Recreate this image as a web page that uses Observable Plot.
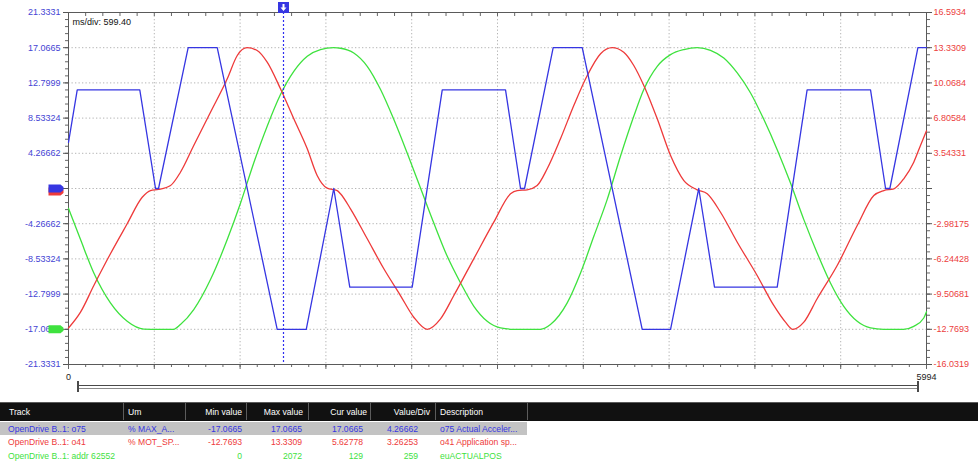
<!DOCTYPE html>
<html>
<head>
<meta charset="utf-8">
<script src="https://cdn.jsdelivr.net/npm/d3@7"></script>
<script src="https://cdn.jsdelivr.net/npm/@observablehq/plot@0.6"></script>
<style>
  body { margin: 0; background: #fff; font-family: "Liberation Sans", Arial, sans-serif; }
  #wrap { position: relative; width: 978px; height: 462px; overflow: hidden; background: #fff; }
  #chart { position: absolute; left: 0; top: 0; }
  .scroll-line { position: absolute; left: 77px; width: 841px; top: 385px; height: 1px; background: #4a4a4a; }
  .scroll-line2 { position: absolute; left: 77px; width: 841px; top: 388px; height: 1px; background: #8a8a8a; }
  .scroll-cap { position: absolute; top: 381px; width: 2px; height: 11px; background: #4a4a4a; }
  #head { position: absolute; left: 0; top: 402px; width: 978px; height: 18px; background: #111; border-top: 1px solid #5a5a5a; }
  .sep { position: absolute; top: 403px; width: 1px; height: 17px; background: #5c5c5c; }
  .cell { position: absolute; font-size: 8.6px; line-height: 10px; white-space: nowrap; }
  .hl { position: absolute; left: 0; top: 422px; width: 527px; height: 13px; background: #c3c3c3; }
</style>
</head>
<body>
<div id="wrap">
  <div id="chart"></div>
</div>
<script>
// Trace colours
const blue = "#3636e2", red = "#ee3a3a", green = "#3ee23e";

// Axis tick labels (left: o75 scale, right: o41 scale)
const leftTickLabels = ["21.3331", "17.0665", "12.7999", "8.53324", "4.26662", "0",
  "-4.26662", "-8.53324", "-12.7999", "-17.0665", "-21.3331"];
const rightTickLabels = ["16.5934", "13.3309", "10.0684", "6.80584", "3.54331", "",
  "-2.98175", "-6.24428", "-9.50681", "-12.7693", "-16.0319"];
const xTickLabels = ["0", "5994"];
const timeSpan = [0, 5994];
const msPerDiv = 599.40;
const cursorTime = 1502;

// o75 Actual acceleration (% MAX_A)
const blueTime = [0, 61, 498, 608, 629, 836, 1039, 1458, 1661, 1853, 1965, 2401, 2611, 3053, 3158,
  3186, 3386, 3589, 4008, 4206, 4403, 4513, 4951, 5160, 5603, 5708, 5738, 5934, 5994];
const blueValue = [5.6, 11.95, 11.95, 0, 0, 17.0665, 17.0665, -17.0665, -17.0665, 0, -11.95, -11.95, 11.95, 11.95, 0,
  0, 17.0665, 17.0665, -17.0665, -17.0665, 0, -11.95, -11.95, 11.95, 11.95, 0, 0, 17.0665, 17.0665];

// o41 Application speed (% MOT_SP)
const redTime = [0, 84, 177, 293, 410, 515, 573, 629, 713, 782, 875, 992, 1109, 1179, 1248, 1318, 1388,
  1481, 1574, 1668, 1737, 1807, 1877, 1900, 1970, 2087, 2203, 2319, 2412, 2506, 2599, 2692, 2831, 2971,
  3088, 3135, 3204, 3274, 3344, 3437, 3530, 3624, 3717, 3798, 3879, 3949, 4019, 4113, 4206, 4299, 4392,
  4462, 4555, 4672, 4811, 4927, 5009, 5060, 5137, 5230, 5370, 5510, 5626, 5696, 5766, 5835, 5905, 5952, 5994];
const redValue = [-12.65, -11.18, -8.71, -5.77, -2.99, -0.53, 0.09, 0.19, 0.56, 1.79, 4.27, 7.35, 10.45, 12.61,
  13.3309, 13.07, 11.99, 9.52, 6.74, 3.96, 1.49, 0.31, 0.09, -0.21, -1.60, -4.38, -7.16, -9.64, -11.65,
  -12.7693, -11.80, -9.64, -6.24, -2.84, -0.21, 0.09, 0.16, 0.56, 2.11, 4.89, 7.97, 10.75, 12.77, 13.3309,
  12.91, 11.68, 9.83, 6.74, 3.34, 1.02, 0.16, -0.21, -1.92, -4.70, -7.78, -10.56, -12.11, -12.7693, -12.11,
  -9.94, -6.86, -3.15, -0.37, 0.09, 0.25, 1.18, 2.72, 4.27, 5.62778];

// addr 62552 euACTUALPOS
const greenTime = [0, 84, 177, 293, 410, 526, 629, 734, 782, 875, 992, 1109, 1202, 1294, 1388, 1481, 1574,
  1668, 1760, 1853, 1900, 1993, 2087, 2180, 2273, 2366, 2459, 2552, 2646, 2739, 2832, 2925, 3018, 3109,
  3297, 3367, 3484, 3577, 3670, 3763, 3856, 3949, 4019, 4113, 4206, 4299, 4392, 4485, 4578, 4672, 4765,
  4858, 4951, 5044, 5137, 5230, 5323, 5416, 5510, 5603, 5694, 5833, 5905, 5975, 5994];
const greenValue = [890, 660, 414, 194, 59, 2, 0, 0, 35, 145, 366, 660, 929, 1224, 1494, 1727, 1898, 2009,
  2058, 2072, 2068, 2033, 1935, 1764, 1543, 1297, 1040, 782, 537, 341, 169, 59, 10, 0, 0, 35, 194, 414,
  684, 954, 1273, 1567, 1764, 1935, 2021, 2058, 2072, 2053, 1996, 1886, 1739, 1543, 1322, 1076, 807, 562,
  341, 169, 59, 10, 0, 0, 22, 83, 129];

// Track table
const tableHeaders = ["Track", "Um", "Min value", "Max value", "Cur value", "Value/Div", "Description"];
const trackNames = ["OpenDrive B..1: o75", "OpenDrive B..1: o41", "OpenDrive B..1: addr 62552"];
const trackUnits = ["% MAX_A...", "% MOT_SP...", ""];
const trackMin = ["-17.0665", "-12.7693", "0"];
const trackMax = ["17.0665", "13.3309", "2072"];
const trackCur = ["17.0665", "5.62778", "129"];
const trackDiv = ["4.26662", "3.26253", "259"];
const trackDesc = ["o75 Actual Acceler...", "o41 Application sp...", "euACTUALPOS"];
const trackColors = [blue, red, green];

// Every trace shares the o75 vertical grid: convert the other units through value/div
const blueDiv = +trackDiv[0], redDiv = +trackDiv[1], greenDiv = +trackDiv[2];
const redOnCentre = 0.280775;              // o41 value on the centre gridline
const greenBase = +leftTickLabels[9];      // position 0 sits on the -17.0665 gridline
const redToY = v => (v - redOnCentre) / redDiv * blueDiv;
const greenToY = v => greenBase + v / greenDiv * blueDiv;

const leftTicks = leftTickLabels.map(Number);
const yMax = leftTicks[0];
const rightByTick = new Map(leftTicks.map((v, i) => [v, rightTickLabels[i]]));
const leftByTick = new Map(leftTicks.map((v, i) => [v, leftTickLabels[i]]));

const blueData = blueTime.map((t, i) => ({t, v: blueValue[i]}));
const redData = redTime.map((t, i) => ({t, v: redToY(redValue[i])}));
const greenData = greenTime.map((t, i) => ({t, v: greenToY(greenValue[i])}));

const xMajor = d3.range(0, 11).map(i => i * msPerDiv);
const xMinor = d3.range(0, 51).map(i => i * msPerDiv / 5);
const yMinor = d3.range(0, 51).map(i => -yMax + i * blueDiv / 5);

// Marker shapes: tab pointing right (track zero), square flag, and down arrow (cursor)
const tabSymbol = {draw(ctx) {
  ctx.moveTo(-8, -4); ctx.lineTo(4, -4); ctx.lineTo(7, -1.5); ctx.lineTo(7, 1.5);
  ctx.lineTo(4, 4); ctx.lineTo(-8, 4); ctx.closePath();
}};
const flagSymbol = {draw(ctx) {
  ctx.moveTo(-5.5, -5.5); ctx.lineTo(5.5, -5.5); ctx.lineTo(5.5, 5.5); ctx.lineTo(-5.5, 5.5); ctx.closePath();
}};
const arrowSymbol = {draw(ctx) {
  ctx.moveTo(-1, -3.5); ctx.lineTo(1, -3.5); ctx.lineTo(1, 0); ctx.lineTo(3, 0);
  ctx.lineTo(0, 3.5); ctx.lineTo(-3, 0); ctx.lineTo(-1, 0); ctx.closePath();
}};

const axisFont = {fontSize: 9, fontFamily: "Liberation Sans"};

const chart = Plot.plot({
  width: 978,
  height: 384,
  marginLeft: 68,
  marginRight: 52,
  marginTop: 12,
  marginBottom: 20,
  style: {background: "transparent", fontFamily: "Liberation Sans", overflow: "visible"},
  x: {domain: timeSpan},
  y: {domain: [-yMax, yMax]},
  marks: [
    Plot.gridY(leftTicks.slice(1, -1), {stroke: "#b4b4b4", strokeOpacity: 1, strokeDasharray: "1.3,2.2"}),
    Plot.gridX(xMajor.slice(1, -1), {stroke: "#b4b4b4", strokeOpacity: 1, strokeDasharray: "1.3,2.2"}),
    // minor ticks on all four sides
    Plot.axisX(xMinor, {anchor: "bottom", tickSize: 3, stroke: "#666", tickFormat: () => "", label: null}),
    Plot.axisX(xMinor, {anchor: "top", tickSize: 3, dy: 3, stroke: "#666", tickFormat: () => "", label: null}),
    Plot.axisY(yMinor, {anchor: "left", tickSize: 3, stroke: "#666", tickFormat: () => "", label: null}),
    Plot.axisY(yMinor, {anchor: "right", tickSize: 3, stroke: "#666", tickFormat: () => "", label: null}),
    Plot.axisX(xMajor, {anchor: "bottom", tickSize: 5, stroke: "#666", tickFormat: () => "", label: null}),
    Plot.axisY(leftTicks, {anchor: "left", tickSize: 5, tickPadding: 3, stroke: "#555", color: "#4444d4",
      tickFormat: d => leftByTick.get(d), label: null, ...axisFont}),
    Plot.axisY(leftTicks, {anchor: "right", tickSize: 5, tickPadding: 2, stroke: "#555", color: "#ec4040",
      tickFormat: d => rightByTick.get(d), label: null, ...axisFont}),
    Plot.frame({stroke: "#5a5a5a"}),
    Plot.text([xTickLabels[0], xTickLabels[1]], {x: (d, i) => timeSpan[i], frameAnchor: "bottom", dy: 13,
      lineAnchor: "middle", fill: "#222", ...axisFont}),
    Plot.text(["ms/div: " + msPerDiv.toFixed(2)], {frameAnchor: "top-left", dx: 4, dy: 10,
      lineAnchor: "middle", textAnchor: "start", fill: "#111", ...axisFont}),
    // traces
    Plot.line(greenData, {x: "t", y: "v", stroke: green, strokeWidth: 1.3, curve: "monotone-x"}),
    Plot.line(redData, {x: "t", y: "v", stroke: red, strokeWidth: 1.3, curve: "monotone-x"}),
    Plot.line(blueData, {x: "t", y: "v", stroke: blue, strokeWidth: 1.3}),
    // cursor
    Plot.ruleX([cursorTime], {stroke: "#2e2ef0", strokeWidth: 1.2, strokeDasharray: "2,2"}),
    Plot.dot([cursorTime], {x: d => d, frameAnchor: "top", dy: -5, symbol: flagSymbol, r: 1, fill: blue, stroke: null}),
    Plot.dot([cursorTime], {x: d => d, frameAnchor: "top", dy: -5, symbol: arrowSymbol, r: 1, fill: "#fff", stroke: null}),
    // track zero markers on the left axis
    Plot.dot([redToY(0)], {y: d => d, frameAnchor: "left", dx: -12, symbol: tabSymbol, r: 1, fill: red, stroke: null}),
    Plot.dot([0], {y: d => d, frameAnchor: "left", dx: -12, symbol: tabSymbol, r: 1, fill: blue, stroke: null}),
    Plot.dot([greenToY(0)], {y: d => d, frameAnchor: "left", dx: -12, symbol: tabSymbol, r: 1, fill: green, stroke: null})
  ]
});
const wrap = document.getElementById("wrap");
document.getElementById("chart").append(chart);

// time scrollbar under the axis
function addDiv(cls, style, text) {
  const el = document.createElement("div");
  el.className = cls;
  Object.assign(el.style, style || {});
  if (text != null) el.textContent = text;
  wrap.append(el);
  return el;
}
addDiv("scroll-line");
addDiv("scroll-line2");
addDiv("scroll-cap", {left: "77px"});
addDiv("scroll-cap", {left: "917px"});

// track table
addDiv("", {}, null).id = "head";
[123, 185, 246, 308, 370, 435, 527].forEach(x => addDiv("sep", {left: x + "px"}));
addDiv("hl");

const headLeft = [9, 128, null, null, null, null, 440];
const headRight = [null, null, 242, 303, 367, 430, null];
const valRight = [null, null, 242, 302, 363, 418, null];
const rowMid = [428.5, 442, 455.5];

tableHeaders.forEach((h, c) => {
  const st = {top: (412 - 5) + "px", color: "#fff"};
  if (headLeft[c] != null) st.left = headLeft[c] + "px";
  else st.right = (978 - headRight[c]) + "px";
  addDiv("cell", st, h);
});
const columns = [trackNames, trackUnits, trackMin, trackMax, trackCur, trackDiv, trackDesc];
trackNames.forEach((_, r) => {
  columns.forEach((col, c) => {
    const st = {top: (rowMid[r] - 5) + "px", color: trackColors[r]};
    if (headLeft[c] != null) st.left = (c === 0 ? 8 : headLeft[c]) + "px";
    else st.right = (978 - valRight[c]) + "px";
    addDiv("cell", st, col[r]);
  });
});
</script>
</body>
</html>
